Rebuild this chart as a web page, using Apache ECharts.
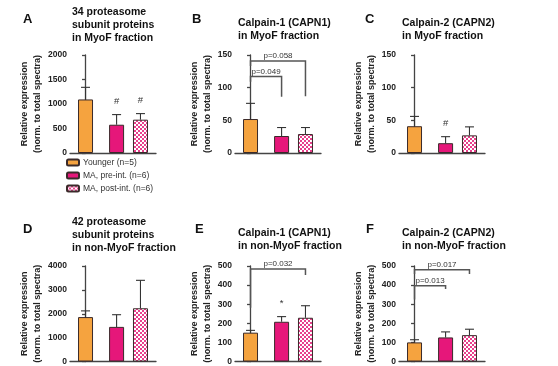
<!DOCTYPE html>
<html><head><meta charset="utf-8">
<script src="https://cdn.jsdelivr.net/npm/echarts@6/dist/echarts.min.js"></script>
<style>html,body{margin:0;padding:0;background:#fff}#c{width:558px;height:366px}</style>
</head><body><div id="c"></div>
<script>
// ---- data ----
const groups = ['Younger (n=5)', 'MA, pre-int. (n=6)', 'MA, post-int. (n=6)'];
const panelLetters = ['A', 'B', 'C', 'D', 'E', 'F'];
const panelTitles = [
  '34 proteasome\nsubunit proteins\nin MyoF fraction',
  'Calpain-1 (CAPN1)\nin MyoF fraction',
  'Calpain-2 (CAPN2)\nin MyoF fraction',
  '42 proteasome\nsubunit proteins\nin non-MyoF fraction',
  'Calpain-1 (CAPN1)\nin non-MyoF fraction',
  'Calpain-2 (CAPN2)\nin non-MyoF fraction'
];
const yAxisName = 'Relative expression\n(norm. to total spectra)';
const yMax = [2000, 150, 150, 4000, 500, 500];
const yStep = [500, 50, 50, 1000, 100, 100];

const meanA = [1093, 577, 680];  const sdA = [247, 207, 124];
const meanB = [52, 26, 29];      const sdB = [24, 13, 10];
const meanC = [41, 15, 27];      const sdC = [15, 10, 13];
const meanD = [1860, 1450, 2230]; const sdD = [260, 510, 1170];
const meanE = [151, 208, 229];   const sdE = [12, 27, 63];
const meanF = [100, 126, 138];   const sdF = [14, 29, 31];

const marksA = ['', '#', '#'];
const marksB = ['', '', ''];
const marksC = ['', '#', ''];
const marksD = ['', '', ''];
const marksE = ['', '*', ''];
const marksF = ['', '', ''];

const bracketsA = [];
const bracketsB = [
  {from: 0, to: 1, y: 117, left: 109, right: 86, label: 'p=0.049'},
  {from: 0, to: 2, y: 141, left: 133, right: 87, label: 'p=0.058'}
];
const bracketsC = [];
const bracketsD = [];
const bracketsE = [
  {from: 0, to: 2, y: 484, left: 281, right: 453, label: 'p=0.032'}
];
const bracketsF = [
  {from: 0, to: 1, y: 397, left: 325, right: 380, label: 'p=0.013'},
  {from: 0, to: 2, y: 480, left: 458, right: 458, label: 'p=0.017'}
];

const means = [meanA, meanB, meanC, meanD, meanE, meanF];
const sds = [sdA, sdB, sdC, sdD, sdE, sdF];
const marks = [marksA, marksB, marksC, marksD, marksE, marksF];
const brackets = [bracketsA, bracketsB, bracketsC, bracketsD, bracketsE, bracketsF];

// ---- layout / style ----
const FONT = 'Liberation Sans, Arial, sans-serif';
const xPos = [0, 1.3, 2.3];
const gridLeft = [70, 235, 399, 70, 235, 399];
const gridTop = [55, 55, 55, 266, 266, 266];
const gridH = [98, 98, 98, 97, 97, 97];
const gridW = 86;
const nameGap = [25, 18, 18, 25, 18, 18];
const titleLeft = [72, 238, 402, 72, 238, 402];
const titleTop = [5.5, 16.5, 16.5, 215.5, 226.5, 226.5];
const letterLeft = [23, 192, 365, 23, 195, 366];
const letterTop = [12, 12, 12, 222, 222, 222];

const ORANGE = '#F5A33F', PINK = '#E6177A';
const pc = document.createElement('canvas');
pc.width = 4; pc.height = 4;
const g = pc.getContext('2d');
g.fillStyle = '#ffffff'; g.fillRect(0, 0, 4, 4);
g.fillStyle = '#E8408C'; g.fillRect(0, 0, 2, 2); g.fillRect(2, 2, 2, 2);
const CHECK = {image: pc, repeat: 'repeat'};
const barColors = [ORANGE, PINK, CHECK];

const grid = [], xAxis = [], yAxis = [], series = [], title = [];
for (let p = 0; p < 6; p++) {
  grid.push({left: gridLeft[p], top: gridTop[p], width: gridW, height: gridH[p]});
  xAxis.push({
    type: 'value', gridIndex: p, min: -0.65, max: 2.95,
    axisLine: {show: true, onZero: false, lineStyle: {color: '#444', width: 1.3}},
    axisTick: {show: false}, axisLabel: {show: false}, splitLine: {show: false}
  });
  yAxis.push({
    type: 'value', gridIndex: p, min: 0, max: yMax[p], interval: yStep[p],
    name: yAxisName, nameLocation: 'middle', nameGap: nameGap[p], nameRotate: 90,
    nameTextStyle: {fontFamily: FONT, fontSize: 9, fontWeight: 'bold', color: '#222', lineHeight: 13},
    axisLine: {show: true, lineStyle: {color: '#444', width: 1.3}},
    axisTick: {show: true, length: 3.5, lineStyle: {color: '#444', width: 1.3}},
    axisLabel: {fontFamily: FONT, fontSize: 8.5, fontWeight: 'bold', color: '#222', margin: 3,
      formatter: v => String(v)},
    splitLine: {show: false}
  });
  title.push({
    text: panelTitles[p], left: titleLeft[p], top: titleTop[p], padding: 0,
    textStyle: {fontFamily: FONT, fontSize: 10.5, fontWeight: 'bold', color: '#111', lineHeight: 13}
  });
  title.push({
    text: panelLetters[p], left: letterLeft[p], top: letterTop[p], padding: 0,
    textStyle: {fontFamily: FONT, fontSize: 13, fontWeight: 'bold', color: '#111', lineHeight: 15}
  });
  for (let k = 0; k < 3; k++) {
    series.push({
      type: 'bar', name: groups[k], xAxisIndex: p, yAxisIndex: p,
      barWidth: 15, barGap: '-100%', silent: true,
      itemStyle: {color: barColors[k], borderColor: '#3a2a2a', borderWidth: 1},
      data: [[xPos[k], means[p][k]]], z: 2
    });
  }
  const mk = marks[p];
  series.push({
    type: 'custom', xAxisIndex: p, yAxisIndex: p, silent: true, z: 5,
    encode: {x: 0, y: [1, 2]},
    data: means[p].map((m, i) => [xPos[i], m, m + sds[p][i]]),
    renderItem: function (params, api) {
      const x = api.value(0), m = api.value(1), t = api.value(2);
      const p0 = api.coord([x, m]), p1 = api.coord([x, t]);
      const ch = [
        {type: 'line', shape: {x1: p0[0], y1: p0[1], x2: p1[0], y2: p1[1]}, style: {stroke: '#333', lineWidth: 1.1}},
        {type: 'line', shape: {x1: p1[0] - 4.5, y1: p1[1], x2: p1[0] + 4.5, y2: p1[1]}, style: {stroke: '#333', lineWidth: 1.1}}
      ];
      const s = mk[params.dataIndex];
      if (s) {
        ch.push({type: 'text', style: {text: s, x: p1[0], y: p1[1] - 13, align: 'center', verticalAlign: 'middle',
          fontFamily: FONT, fontSize: 9.5, fill: '#333'}});
      }
      return {type: 'group', children: ch};
    }
  });
  const br = brackets[p];
  if (br.length) {
    series.push({
      type: 'custom', xAxisIndex: p, yAxisIndex: p, silent: true, z: 6, clip: false,
      encode: {x: [0, 1], y: [2, 3, 4]},
      data: br.map(b => [xPos[b.from], xPos[b.to], b.y, b.left, b.right]),
      renderItem: function (params, api) {
        const b = br[params.dataIndex];
        const a = api.coord([api.value(0), api.value(2)]);
        const c = api.coord([api.value(1), api.value(2)]);
        const l = api.coord([api.value(0), api.value(3)]);
        const r = api.coord([api.value(1), api.value(4)]);
        return {type: 'group', children: [
          {type: 'polyline', shape: {points: [[l[0], l[1]], [a[0], a[1]], [c[0], c[1]], [r[0], r[1]]]},
            style: {stroke: '#555', lineWidth: 1.5, fill: null}},
          {type: 'text', style: {text: b.label, x: (a[0] + c[0]) / 2, y: a[1] - 5, align: 'center', verticalAlign: 'middle',
            fontFamily: FONT, fontSize: 8, fill: '#333'}}
        ]};
      }
    });
  }
}

const chart = echarts.init(document.getElementById('c'), null, {renderer: 'canvas'});
chart.setOption({
  animation: false,
  backgroundColor: '#fff',
  title: title,
  legend: {
    data: groups, orient: 'vertical', left: 66, top: 158, padding: 0,
    itemWidth: 12, itemHeight: 6, itemGap: 4, selectedMode: false,
    textStyle: {fontFamily: FONT, fontSize: 8.5, color: '#333', padding: [0, 0, 0, -1]}
  },
  grid: grid, xAxis: xAxis, yAxis: yAxis, series: series
});
</script>
</body></html>
